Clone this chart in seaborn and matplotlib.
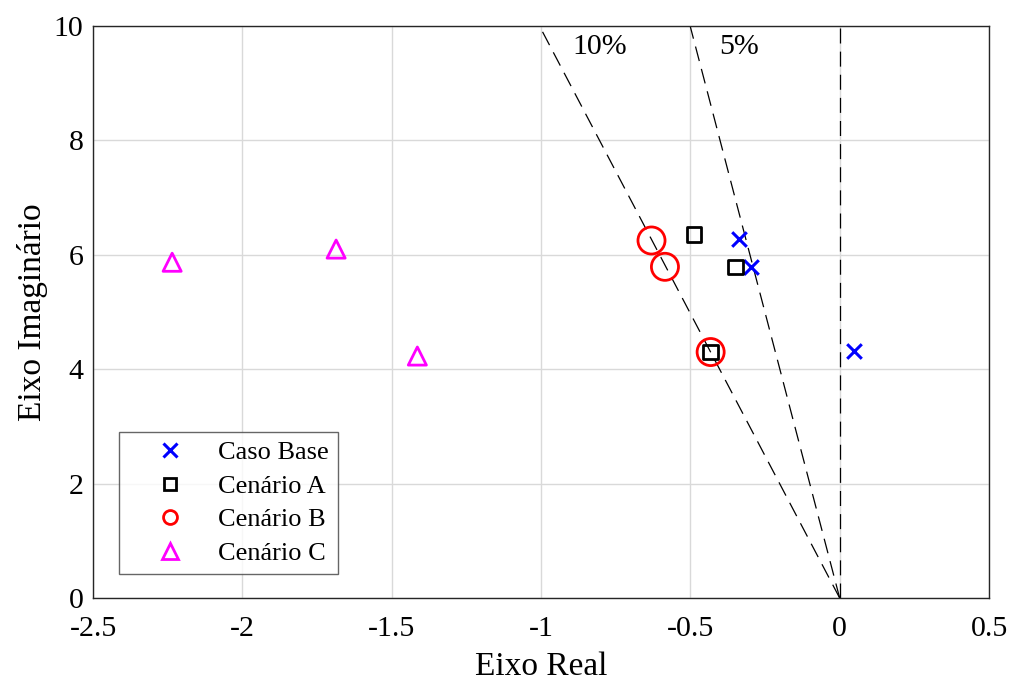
import numpy as np
import pandas as pd
import matplotlib
matplotlib.use("Agg")
import matplotlib.pyplot as plt
import seaborn as sns
from matplotlib.lines import Line2D

# ---- data ----
series_names = ["Caso Base", "Cenário A", "Cenário B", "Cenário C"]
base_re = [-0.337, -0.298, 0.047]
base_im = [6.28, 5.78, 4.32]
a_re = [-0.488, -0.349, -0.432]
a_im = [6.35, 5.79, 4.30]
b_re = [-0.630, -0.585, -0.432]
b_im = [6.25, 5.79, 4.30]
c_re = [-2.235, -1.686, -1.414]
c_im = [5.87, 6.10, 4.23]
damping = [0.10, 0.05]
damping_labels = ["10%", "5%"]
xticks = [-2.5, -2, -1.5, -1, -0.5, 0, 0.5]
xtick_labels = ["-2.5", "-2", "-1.5", "-1", "-0.5", "0", "0.5"]
yticks = [0, 2, 4, 6, 8, 10]

sns.set_theme(style="white")
plt.rcParams['font.family'] = ['Liberation Serif', 'DejaVu Serif']
plt.rcParams['text.color'] = 'black'
plt.rcParams['axes.labelcolor'] = 'black'

fig = plt.figure(figsize=(10.11, 6.84), dpi=100)
ax = fig.add_axes([93/1011, 1-598/684, (989-93)/1011, (598-26)/684])

# grid
ax.set_axisbelow(True)
ax.grid(True, color="#d9d9d9", linewidth=1.0)

# damping lines
ymax = 10
dash = (0, (12, 6.5))
for z in damping:
    xe = -z / np.sqrt(1 - z**2) * ymax
    ax.plot([0, xe], [0, ymax], linestyle=dash, color="black", linewidth=0.9, zorder=2)
ax.plot([0, 0], [0, ymax], linestyle=dash, color="black", linewidth=0.9, zorder=2)
ax.text(-0.895, 9.64, damping_labels[0], fontsize=21.5, ha="left", va="center", color="black")
ax.text(-0.402, 9.64, damping_labels[1], fontsize=21.5, ha="left", va="center", color="black")

df_base = pd.DataFrame({"re": base_re, "im": base_im})
df_a = pd.DataFrame({"re": a_re, "im": a_im})
df_b = pd.DataFrame({"re": b_re, "im": b_im})
df_c = pd.DataFrame({"re": c_re, "im": c_im})

sns.scatterplot(data=df_base, x="re", y="im", marker="x", s=110, color="blue", linewidth=2.2, ax=ax, zorder=3)
sns.scatterplot(data=df_a, x="re", y="im", marker="s", s=110, facecolors="none", edgecolor="black", linewidth=2.0, ax=ax, zorder=3)
sns.scatterplot(data=df_b, x="re", y="im", marker="o", s=380, facecolors="none", edgecolor="red", linewidth=2.0, ax=ax, zorder=3)
sns.scatterplot(data=df_c, x="re", y="im", marker="^", s=170, facecolors="none", edgecolor="magenta", linewidth=2.0, ax=ax, zorder=3)

ax.set_xlim(-2.5, 0.5)
ax.set_ylim(0, 10)
ax.set_xticks(xticks)
ax.set_xticklabels(xtick_labels)
ax.set_yticks(yticks)
ax.tick_params(axis="both", labelsize=21.5, direction="in", length=0, colors="black")
ax.tick_params(axis="x", pad=13)
ax.tick_params(axis="y", pad=7)
for sp in ax.spines.values():
    sp.set_color("#262626")
    sp.set_linewidth(1.0)
ax.set_xlabel("Eixo Real", fontsize=24, labelpad=7, color="black")
ax.set_ylabel("Eixo Imaginário", fontsize=24, labelpad=4, color="black")

handles = [
    Line2D([], [], linestyle="none", marker="x", color="blue", markersize=10, markeredgewidth=2.2),
    Line2D([], [], linestyle="none", marker="s", markerfacecolor="none", markeredgecolor="black", markersize=9, markeredgewidth=2.0),
    Line2D([], [], linestyle="none", marker="o", markerfacecolor="none", markeredgecolor="red", markersize=10, markeredgewidth=2.0),
    Line2D([], [], linestyle="none", marker="^", markerfacecolor="none", markeredgecolor="magenta", markersize=11, markeredgewidth=2.0),
]
leg = ax.legend(handles, series_names, loc="lower left", bbox_to_anchor=(0.029, 0.042),
                fontsize=19, frameon=True, fancybox=False, borderaxespad=0,
                handletextpad=0.2, labelspacing=0.38, borderpad=0.35, handlelength=3.2)
leg.get_frame().set_edgecolor("#404040")
leg.get_frame().set_linewidth(1.0)
for t in leg.get_texts():
    t.set_color("black")

fig.savefig("out.png", dpi=100)
